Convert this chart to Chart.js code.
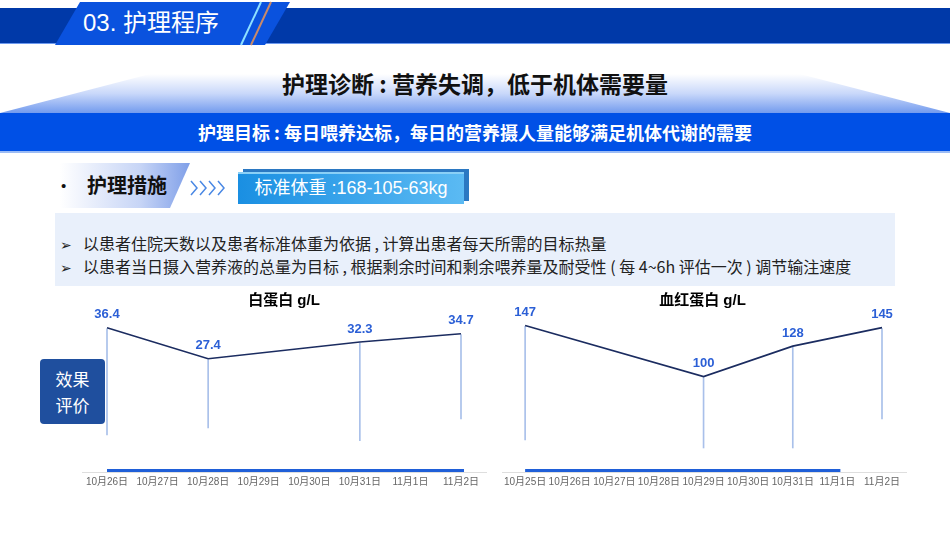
<!DOCTYPE html>
<html>
<head>
<meta charset="utf-8">
<script src="https://cdn.jsdelivr.net/npm/chart.js@4.4.1/dist/chart.umd.min.js"></script>
<style>
  body { margin: 0; width: 950px; height: 535px; background: #fff; position: relative; overflow: hidden;
         font-family: "Liberation Sans", "Noto Sans CJK SC", sans-serif; }
  .abs { position: absolute; }
  .band { left: 0; top: 8px; width: 950px; height: 35px; background: #0039a8; border-bottom: 1px solid #6d9af0; }
  .tab { left: 0; top: 2px; width: 300px; height: 43px; background: #0a52de;
         clip-path: polygon(55px 100%, 80px 0, 290px 0, 265px 100%); }
  .tabtext { left: 83px; top: 7px; color: #fff; font-size: 24px; line-height: 32px; font-family: "Liberation Sans", "Noto Sans CJK SC"; }
  .trap { left: 0; top: 74px; width: 950px; height: 39px;
          background: linear-gradient(to bottom, #ffffff 0%, #c9d8fa 50%, #739bee 100%);
          clip-path: polygon(0 100%, 150px 0, 800px 0, 100% 100%); }
  .diag { left: 0; top: 67px; width: 950px; text-align: center; font-size: 23px; font-weight: bold; color: #111;
          line-height: 32px; font-family: "Noto Sans CJK SC"; }
  .goal { left: 0; top: 113px; width: 950px; height: 38px; background: #0050e6; border-bottom: 2px solid #9cbcf5;
          color: #fff; font-weight: bold; font-size: 18px; line-height: 38px; text-align: center; font-family: "Noto Sans CJK SC"; }
  .meas { left: 0; top: 163px; width: 200px; height: 45px;
          background: linear-gradient(to right, rgba(255,255,255,0) 60px, #c7d5f6 140px, #7f9fe8 190px);
          clip-path: polygon(60px 0, 190px 0, 170px 100%, 60px 100%); }
  .bullet { left: 61px; top: 171px; font-size: 15px; line-height: 30px; color: #111; }
  .meastext { left: 87px; top: 170px; font-size: 20px; font-weight: bold; line-height: 30px; color: #111; font-family: "Noto Sans CJK SC"; }
  .weight { left: 238px; top: 172px; width: 226px; height: 30px;
            background: linear-gradient(to right, #1a8fe2, #5bbaf3); border-top: 2px solid #8ad0f7;
            box-shadow: 5px -3px 0 #2b78c2; color: #fff; font-size: 18px; line-height: 29px; text-align: center;
            font-family: "Liberation Sans", "Noto Sans CJK SC"; }
  .panel { left: 55px; top: 213px; width: 840px; height: 73px; background: #e9f0fb; }
  .line { left: 60px; font-size: 16px; color: #222; line-height: 22px; font-family: "Noto Sans CJK SC"; white-space: nowrap; }
  .line span { display: inline-block; width: 23px; font-size: 14px; }
  .eval { left: 40px; top: 359px; width: 65px; height: 65px; background: #1f4f9e; border-radius: 4px;
          color: #fff; font-size: 17px; line-height: 26px; text-align: center; padding-top: 7px; box-sizing: border-box;
          font-family: "Noto Sans CJK SC"; }
  .chartbox { top: 290px; width: 410px; height: 205px; }
</style>
</head>
<body>
<div class="abs band"></div>
<div class="abs tab"></div>
<svg class="abs" style="left:0;top:0" width="300" height="48">
  <line x1="261" y1="2" x2="241" y2="45" stroke="#8fe0ff" stroke-width="2"/>
  <line x1="271" y1="2" x2="251" y2="45" stroke="#c98a6a" stroke-width="2"/>
</svg>
<div class="abs tabtext">03. 护理程序</div>

<div class="abs trap"></div>
<div class="abs diag">护理诊断 : 营养失调，低于机体需要量</div>
<div class="abs goal">护理目标 : 每日喂养达标，每日的营养摄人量能够满足机体代谢的需要</div>

<div class="abs meas"></div>
<div class="abs bullet">•</div>
<div class="abs meastext">护理措施</div>
<svg class="abs" style="left:188px;top:178px" width="44" height="20">
  <g fill="none" stroke="#4a88e4" stroke-width="1.5">
    <polyline points="3,3 9,10 3,17"/><polyline points="12,3 18,10 12,17"/>
    <polyline points="21,3 27,10 21,17"/><polyline points="30,3 36,10 30,17"/>
  </g>
</svg>
<div class="abs weight">标准体重 :168-105-63kg</div>

<div class="abs panel"></div>
<div class="abs line" style="top:232px"><span>➢</span>以患者住院天数以及患者标准体重为依据 , 计算出患者每天所需的目标热量</div>
<div class="abs line" style="top:255px"><span>➢</span>以患者当日摄入营养液的总量为目标 , 根据剩余时间和剩余喂养量及耐受性 ( 每 4~6h 评估一次 ) 调节输注速度</div>

<div class="abs eval">效果<br>评价</div>

<div class="abs chartbox" style="left:80px"><canvas id="albChart"></canvas></div>
<div class="abs chartbox" style="left:500px"><canvas id="hbChart"></canvas></div>

<script>
// 白蛋白
var albLabels = ['10月26日', '10月27日', '10月28日', '10月29日', '10月30日', '10月31日', '11月1日', '11月2日'];
var albDates = ['10月26日', '10月28日', '10月31日', '11月2日'];
var albValues = [36.4, 27.4, 32.3, 34.7];
var albDropEnds = [5.3, 7.3, 3.6, 9.9];

// 血红蛋白
var hbLabels = ['10月25日', '10月26日', '10月27日', '10月28日', '10月29日', '10月30日', '10月31日', '11月1日', '11月2日'];
var hbDates = ['10月25日', '10月29日', '10月31日', '11月2日'];
var hbValues = [147, 100, 128, 145];
var hbDropEnds = [41.7, 34.3, 34.3, 61];

// 轴线 + 底部蓝条 + 数值标签
var slideMarks = {
    id: 'slideMarks',
    beforeDatasetsDraw: function (chart, args, opts) {
        var ctx = chart.ctx, area = chart.chartArea, x = chart.scales.x;
        ctx.save();
        ctx.strokeStyle = '#dedede';
        ctx.lineWidth = 1;
        ctx.beginPath();
        ctx.moveTo(2, area.bottom + 0.5);
        ctx.lineTo(chart.width - 3, area.bottom + 0.5);
        ctx.stroke();
        ctx.strokeStyle = '#1f5fd8';
        ctx.lineWidth = 3;
        ctx.beginPath();
        ctx.moveTo(x.getPixelForValue(x.getLabels().indexOf(opts.from)), area.bottom - 1.5);
        ctx.lineTo(x.getPixelForValue(x.getLabels().indexOf(opts.to)) + 3, area.bottom - 1.5);
        ctx.stroke();
        ctx.restore();
    },
    afterDatasetsDraw: function (chart) {
        var ctx = chart.ctx;
        var meta = chart.getDatasetMeta(0);
        var ds = chart.data.datasets[0];
        ctx.save();
        ctx.font = 'bold 13px "Liberation Sans", Arial, sans-serif';
        ctx.fillStyle = '#2b5fd6';
        ctx.textAlign = 'center';
        ctx.textBaseline = 'middle';
        meta.data.forEach(function (pt, i) {
            ctx.fillText(String(ds.data[i].y), pt.x, pt.y - 13);
        });
        ctx.restore();
    }
};

function makeChart(id, title, labels, dates, values, drops, yMin, yMax, pad, barTo) {
    var ctx = document.getElementById(id).getContext('2d');
    return new Chart(ctx, {
        data: {
            labels: labels,
            datasets: [{
                type: 'line',
                order: 0,
                data: dates.map(function (d, i) { return { x: d, y: values[i] }; }),
                borderColor: '#1b2c60',
                borderWidth: 1.6,
                pointRadius: 0,
                tension: 0
            }, {
                type: 'bar',
                order: 1,
                data: dates.map(function (d, i) { return { x: d, y: [drops[i], values[i] - 0.6 * (yMax - yMin) / 100] }; }),
                backgroundColor: '#a9c0ea',
                barThickness: 1,
                clip: false
            }]
        },
        options: {
            responsive: true,
            maintainAspectRatio: false,
            animation: false,
            layout: { padding: { left: pad[0], right: pad[1], top: 0, bottom: 3 } },
            plugins: {
                legend: { display: false },
                tooltip: { enabled: false },
                title: {
                    display: true,
                    text: title,
                    color: '#000',
                    font: { size: 15, weight: 'bold', family: '"Liberation Sans", "Noto Sans CJK SC", sans-serif' },
                    padding: { top: 2, bottom: 2 }
                },
                slideMarks: { from: labels[0], to: barTo }
            },
            scales: {
                x: {
                    offset: false,
                    grid: { display: false, drawTicks: false, tickLength: 0 },
                    border: { display: false },
                    ticks: {
                        autoSkip: false,
                        maxRotation: 0,
                        padding: 4,
                        color: '#666',
                        font: { size: 10, family: '"Liberation Sans", "Noto Sans CJK SC", sans-serif' }
                    },
                    afterFit: function (s) { s.height = 20; }
                },
                y: { display: false, min: yMin, max: yMax }
            }
        },
        plugins: [slideMarks]
    });
}

makeChart('albChart', '白蛋白 g/L', albLabels, albDates, albValues, albDropEnds, -5.5, 41.0, [27, 29], '11月2日');
makeChart('hbChart', '血红蛋白 g/L', hbLabels, hbDates, hbValues, hbDropEnds, 12.2, 159.4, [23, 28], '11月1日');
</script>
</body>
</html>
